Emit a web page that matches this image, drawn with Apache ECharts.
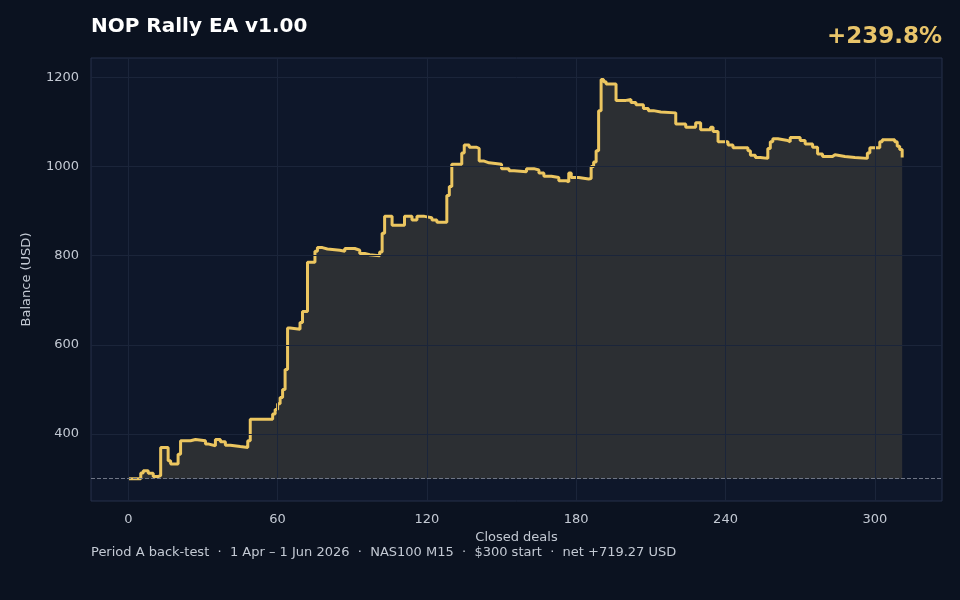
<!DOCTYPE html>
<html><head><meta charset="utf-8">
<script src="https://cdn.jsdelivr.net/npm/echarts@6/dist/echarts.min.js"></script>
<style>html,body{margin:0;background:#0b1220;}#c{width:960px;height:600px;}</style>
</head><body><div id="c"></div>
<script>
const deals = [0,5,6,8,10,12,13,16,17,20,21,25,27,31,32,35,37,39,41,45,48,49,58,59,60,61,62,63,64,65,69,70,72,75,76,78,80,85,87,91,93,95,97,101,102,103,106,111,114,116,119,122,124,128,129,130,134,135,137,140,141,143,145,150,153,155,160,163,165,167,170,173,176,177,178,181,185,186,187,188,189,190,191,192,196,200,202,204,207,209,211,214,220,224,228,230,234,235,237,241,243,249,250,252,254,257,258,259,261,265,266,270,272,275,277,279,283,284,288,292,297,298,302,303,308,309,310,311];
const balance = [300,313,318,312,305,307,370,340,333,355,385,388,385,378,374,388,383,375,372,370,385,433,445,455,468,482,500,545,638,635,650,675,785,810,818,815,812,810,816,812,805,802,800,808,850,888,868,888,880,888,885,880,875,935,955,1005,1030,1048,1043,1040,1012,1008,1005,995,990,988,995,992,985,978,975,968,965,985,975,972,973,1000,1010,1035,1125,1195,1190,1185,1148,1150,1143,1138,1130,1125,1122,1120,1095,1088,1098,1082,1088,1078,1055,1048,1042,1035,1025,1020,1018,1040,1055,1062,1058,1055,1065,1058,1050,1043,1028,1022,1026,1022,1020,1018,1030,1042,1055,1060,1055,1045,1038,1020];
const xTicks = [0,60,120,180,240,300];
const yTicks = [400,600,800,1000,1200];
const startBalance = 300;

const chart = echarts.init(document.getElementById('c'));
const gridLine = {color:'#1b253a', width:1, type:'solid'};
chart.setOption({
  backgroundColor:'#0b1220',
  animation:false,
  textStyle:{fontFamily:'DejaVu Sans'},
  title:[
    {text:'NOP Rally EA v1.00', left:86, top:12, textStyle:{color:'#ffffff', fontSize:20, fontWeight:'bold', fontFamily:'DejaVu Sans'}},
    {text:'+239.8%', right:13, top:21, textStyle:{color:'#e8c46a', fontSize:23, fontWeight:'bold', fontFamily:'DejaVu Sans'}},
    {text:'Period A back-test  ·  1 Apr – 1 Jun 2026  ·  NAS100 M15  ·  $300 start  ·  net +719.27 USD', left:86, top:541, textStyle:{color:'#c3c9d3', fontSize:13, fontWeight:'normal', fontFamily:'DejaVu Sans'}}
  ],
  grid:{left:91, right:18, top:58, bottom:99, show:true, backgroundColor:'#0e172a', borderColor:'#26314a', borderWidth:1},
  xAxis:{type:'value', min:-15, max:327, interval:15,
    name:'Closed deals', nameLocation:'middle', nameGap:26, nameTextStyle:{color:'#c3c9d3', fontSize:13},
    axisLine:{show:false}, axisTick:{show:false}, splitLine:{show:false},
    axisLabel:{color:'#c3c9d3', fontSize:13, margin:12, showMinLabel:false, showMaxLabel:false, formatter:v=>xTicks.includes(v)?String(v):''}},
  yAxis:{type:'value', min:250, max:1243, interval:50,
    name:'Balance (USD)', nameLocation:'middle', nameGap:58, nameTextStyle:{color:'#c3c9d3', fontSize:13},
    axisLine:{show:false}, axisTick:{show:false}, splitLine:{show:false},
    axisLabel:{color:'#c3c9d3', fontSize:13, margin:12, showMaxLabel:false, formatter:v=>yTicks.includes(v)?String(v):''}},
  series:[{
    type:'line', step:'end', symbol:'none',
    data: deals.map((d,i)=>[d,balance[i]]),
    lineStyle:{color:'#ecc660', width:3},
    areaStyle:{color:'#2c2f33', opacity:1, origin:startBalance},
    markLine:{silent:true, symbol:'none', label:{show:false},
      data:[
        ...xTicks.map(x=>({xAxis:x, lineStyle:gridLine})),
        ...yTicks.map(y=>({yAxis:y, lineStyle:gridLine})),
        {yAxis:startBalance, lineStyle:{color:'#6f7686', type:'dashed', width:1}}
      ]},
    z:3
  }]
});
</script></body></html>
